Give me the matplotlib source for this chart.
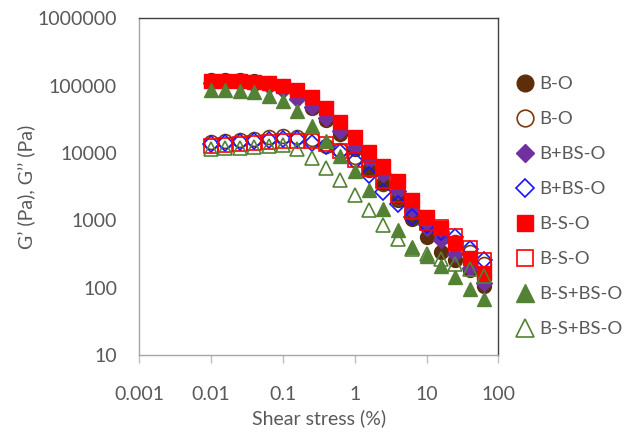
import matplotlib
matplotlib.use("Agg")
import matplotlib.pyplot as plt

plt.rcParams['font.family'] = ['Lato', 'DejaVu Sans']

# shear stress (%), 5 points per decade
strain = [0.01, 0.0158, 0.0251, 0.0398, 0.0631, 0.1, 0.158, 0.251, 0.398, 0.631,
          1, 1.58, 2.51, 3.98, 6.31, 10, 15.8, 25.1, 39.8, 63.1]

# G' (filled) and G'' (open) for each sample, Pa
bo_g1 = [120000, 120000, 120000, 116000, 108000, 97700, 74100, 47300, 31000, 18900,
         11500, 5830, 3560, 2000, 1030, 564, 339, 254, 184, 107]
bo_g2 = [14800, 15200, 15700, 16300, 17100, 17600, 17100, 15900, 12800, 11200,
         8650, 5580, 3440, 2130, 1310, 900, 637, 483, 342, 226]
bbs_g1 = [108000, 108000, 108000, 104000, 97700, 85100, 63000, 49000, 33500, 21400,
          12300, 7890, 4870, 2690, 1440, 772, 506, 319, 197, 117]
bbs_g2 = [13800, 14000, 14400, 14900, 15500, 16300, 16400, 14200, 12800, 10400,
          7540, 4650, 2680, 1730, 1140, 848, 682, 568, 379, 254]
bs_g1 = [116000, 116000, 116000, 112000, 108000, 100000, 86000, 66800, 46200, 29200,
         17300, 10400, 6340, 3780, 1990, 1140, 757, 466, 278, 166]
bs_g2 = [12900, 13200, 13700, 14200, 14700, 14900, 15000, 15000, 13400, 10600,
         7970, 5780, 3820, 2360, 1310, 900, 783, 595, 393, 260]
bsbs_g1 = [85900, 85100, 84200, 79400, 70800, 59600, 42200, 25200, 15200, 9060,
           5350, 2830, 1460, 713, 403, 298, 208, 143, 95.7, 67.8]
bsbs_g2 = [11600, 11700, 11900, 12300, 12800, 13100, 11500, 8450, 5980, 4000,
           2380, 1420, 848, 536, 379, 319, 269, 226, 191, 151]

labels = ['B-O', 'B-O', 'B+BS-O', 'B+BS-O', 'B-S-O', 'B-S-O', 'B-S+BS-O', 'B-S+BS-O']

txt = '#595959'

fig = plt.figure(figsize=(6.25, 4.37), dpi=100)
ax = fig.add_axes([0.2229, 0.1876, 0.5744, 0.7705])

ax.plot(strain, bo_g1, 'o', ms=10, color='#5E2E0A', mec='#5E2E0A', label=labels[0])
ax.plot(strain, bo_g2, 'o', ms=10, mfc='none', mec='#7B3A10', mew=1.2, label=labels[1])
ax.plot(strain, bbs_g1, 'D', ms=8, color='#7030A0', mec='#7030A0', label=labels[2])
ax.plot(strain, bbs_g2, 'D', ms=8, mfc='none', mec='#1414FF', mew=1.2, label=labels[3])
ax.plot(strain, bs_g1, 's', ms=9.5, color='#FF0000', mec='#FF0000', label=labels[4])
ax.plot(strain, bs_g2, 's', ms=9.5, mfc='none', mec='#FF0000', mew=1.2, label=labels[5])
ax.plot(strain, bsbs_g1, '^', ms=10.5, color='#548235', mec='#548235', label=labels[6])
ax.plot(strain, bsbs_g2, '^', ms=10.5, mfc='none', mec='#548235', mew=1.2, label=labels[7])

ax.set_xscale('log')
ax.set_yscale('log')
ax.set_xlim(0.001, 100)
ax.set_ylim(10, 1000000)
ax.set_xticks([0.001, 0.01, 0.1, 1, 10, 100])
ax.set_xticklabels(['0.001', '0.01', '0.1', '1', '10', '100'])
ax.set_yticks([10, 100, 1000, 10000, 100000, 1000000])
ax.set_yticklabels(['10', '100', '1000', '10000', '100000', '1000000'])
ax.minorticks_off()
ax.tick_params(axis='x', length=6, width=1, color='#bfbfbf', pad=16, labelsize=14, labelcolor=txt)
ax.tick_params(axis='y', length=0, pad=16, labelsize=14, labelcolor=txt)
for s in ax.spines.values():
    s.set_color('#404040')
    s.set_linewidth(1)
ax.spines['left'].set_color('#a6a6a6')
ax.spines['bottom'].set_color('#a6a6a6')

ax.set_xlabel('Shear stress (%)', fontsize=14, color=txt, labelpad=5)
ax.set_ylabel('G\u2019 (Pa), G\u2019\u2019 (Pa)', fontsize=14, color=txt, labelpad=2)

fig.legend(loc='upper left', bbox_to_anchor=(0.825, 0.826), frameon=False,
           fontsize=13.3, labelcolor=txt, handlelength=1.0, handletextpad=0.3,
           labelspacing=1.03, borderpad=0, borderaxespad=0, numpoints=1,
           markerscale=1.2)

fig.savefig('out.png', dpi=100)
